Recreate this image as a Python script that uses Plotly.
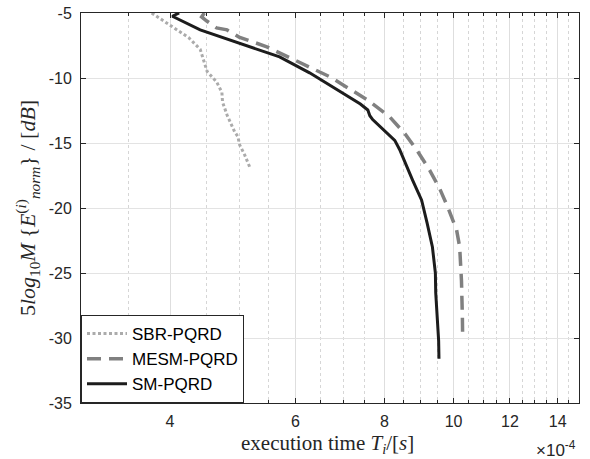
import math
import plotly.graph_objects as go

# ---- data (x in units of 1e-4 s, y in dB) ----
sbr_x = [3.77, 3.96, 4.25, 4.41, 4.51, 4.65, 4.73, 4.74, 4.81, 4.93, 4.98, 5.01, 5.09, 5.18]
sbr_y = [-5.0, -5.8, -6.9, -7.8, -9.5, -10.3, -11.1, -11.85, -12.85, -14.15, -14.5, -15.15, -15.9, -16.9]

mesm_x = [4.47, 4.43, 4.50, 4.65, 4.81, 5.0, 5.47, 5.83, 6.70, 7.58, 8.14, 8.55, 8.87, 9.26,
          9.56, 9.81, 10.0, 10.1, 10.2, 10.26, 10.29, 10.30]
mesm_y = [-5.0, -5.3, -5.6, -6.15, -6.3, -6.85, -7.6, -8.3, -9.9, -11.7, -13.0, -14.3, -15.5, -17.1,
          -18.5, -19.9, -21.0, -21.7, -23.0, -25.6, -28.4, -30.1]

sm_x = [4.12, 4.03, 4.41, 5.0, 5.47, 5.70, 6.28, 6.70, 7.06, 7.40, 7.58, 7.63, 7.70, 8.05, 8.27,
        8.40, 8.48, 8.56, 8.76, 9.02, 9.10, 9.18, 9.34, 9.40, 9.43, 9.44, 9.47, 9.50, 9.53, 9.54]
sm_y = [-5.0, -5.25, -6.3, -7.3, -8.0, -8.38, -9.6, -10.55, -11.3, -12.0, -12.46, -12.9, -13.2, -14.15, -14.8,
        -15.5, -16.0, -16.6, -17.85, -19.4, -20.4, -21.15, -23.0, -24.3, -25.0, -26.5, -27.5, -29.0, -30.2, -31.6]

x_tick_vals = [4, 6, 8, 10, 12, 14]
x_tick_text = ["4", "6", "8", "10", "12", "14"]
x_minor_vals = [3.5 + 0.5 * k for k in range(23)]
y_tick_vals = [-35, -30, -25, -20, -15, -10, -5]
y_tick_text = ["-35", "-30", "-25", "-20", "-15", "-10", "-5"]

SCALE = 1e-4

fig = go.Figure()
fig.add_trace(go.Scatter(x=[v * SCALE for v in sbr_x], y=sbr_y, mode="lines", name="SBR-PQRD",
                         line=dict(color="#ababab", width=3, dash="3px,2.5px")))
fig.add_trace(go.Scatter(x=[v * SCALE for v in mesm_x], y=mesm_y, mode="lines", name="MESM-PQRD",
                         line=dict(color="#808080", width=3.5, dash="14px,8px")))
fig.add_trace(go.Scatter(x=[v * SCALE for v in sm_x], y=sm_y, mode="lines", name="SM-PQRD",
                         line=dict(color="#1c1c1c", width=3)))

axcol = "#262626"
tickfont = dict(family="Liberation Sans, Arial, sans-serif", size=16, color=axcol)

fig.update_layout(
    width=590, height=459,
    margin=dict(l=81, r=11, t=13, b=56),
    paper_bgcolor="white", plot_bgcolor="white",
    showlegend=True,
    legend=dict(x=0, y=0, xanchor="left", yanchor="bottom",
                bgcolor="white", bordercolor=axcol, borderwidth=1,
                font=dict(family="Liberation Sans, Arial, sans-serif", size=17, color="black"),
                tracegroupgap=0, itemwidth=40),
    xaxis=dict(
        type="log", range=[math.log10(3e-4), math.log10(15e-4)],
        tickvals=[v * SCALE for v in x_tick_vals], ticktext=x_tick_text,
        tickfont=tickfont, ticks="inside", ticklen=5, tickcolor=axcol,
        showline=True, linecolor=axcol, linewidth=1, mirror="ticks",
        showgrid=True, gridcolor="#dedede", gridwidth=1,
        zeroline=False, automargin=False, ticklabelstandoff=4,
        minor=dict(tickmode="array", tickvals=[v * SCALE for v in x_minor_vals],
                   ticks="inside", ticklen=3, tickcolor=axcol,
                   showgrid=True, gridcolor="#d6d6d6", griddash="dot", gridwidth=1),
    ),
    yaxis=dict(
        range=[-35, -5], tickvals=y_tick_vals, ticktext=y_tick_text,
        tickfont=tickfont, ticks="inside", ticklen=5, tickcolor=axcol,
        showline=True, linecolor=axcol, linewidth=1, mirror="ticks",
        showgrid=True, gridcolor="#e3e3e3", gridwidth=1,
        zeroline=False, automargin=False, ticklabelstandoff=5,
    ),
)

serif = "Liberation Serif, DejaVu Serif, serif"
fig.add_annotation(xref="paper", yref="paper", x=(327 - 81) / 498, y=(403 - 444) / 390,
                   xanchor="center", yanchor="middle", showarrow=False,
                   text="execution time <i>T</i><sub><i>i</i></sub>/[<i>s</i>]",
                   font=dict(family=serif, size=21, color=axcol))
fig.add_annotation(xref="paper", yref="paper", x=(27 - 81) / 498, y=0.5,
                   xanchor="center", yanchor="middle", showarrow=False, textangle=-90,
                   text="5<i>log</i><sub>10</sub><i>M</i> {<i>E</i><sup>(<i>i</i>)</sup><sub><i>norm</i></sub>} / [<i>dB</i>]",
                   font=dict(family=serif, size=22, color=axcol))
fig.add_annotation(xref="paper", yref="paper", x=(578 - 81) / 498, y=(403 - 449) / 390,
                   xanchor="right", yanchor="middle", showarrow=False,
                   text="×10<sup>-4</sup>",
                   font=dict(family="Liberation Sans, Arial, sans-serif", size=17, color=axcol))

fig.write_html("out.html", config={"displayModeBar": False},
               post_script="document.body.style.margin='0px';")
